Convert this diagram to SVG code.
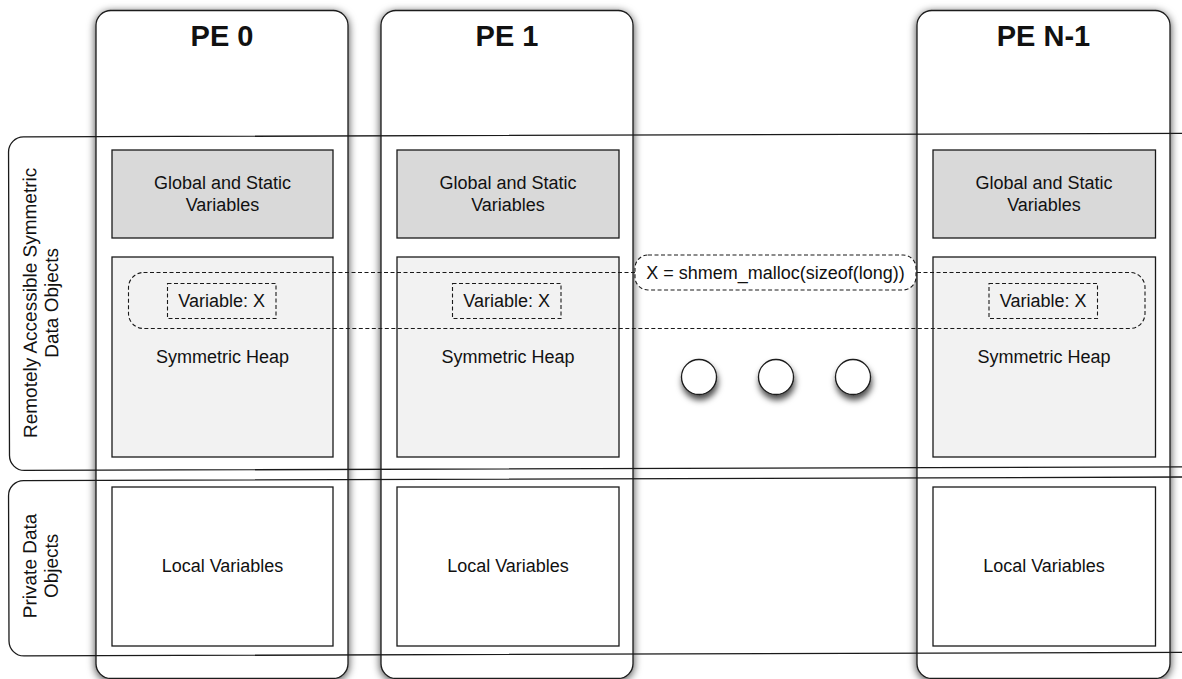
<svg xmlns="http://www.w3.org/2000/svg" width="1182" height="679" viewBox="0 0 1182 679">
<style>
.col{fill:#fff;stroke:#1a1a1a;stroke-width:1.3}
.row{fill:none;stroke:#1a1a1a;stroke-width:1.3}
.glob{fill:#d9d9d9;stroke:#1a1a1a;stroke-width:1.3}
.heap{fill:#f2f2f2;stroke:#1a1a1a;stroke-width:1.3}
.loc{fill:#fff;stroke:#1a1a1a;stroke-width:1.3}
.dash{fill:none;stroke:#1a1a1a;stroke-width:1.1;stroke-dasharray:4 2.5}
.dashw{fill:#fff;stroke:#1a1a1a;stroke-width:1.1;stroke-dasharray:4 2.5}
.dot{fill:#fff;stroke:#1a1a1a;stroke-width:1.3}
text{font-family:"Liberation Sans",Arial,Helvetica,sans-serif;fill:#111;text-anchor:middle}
.t{font-size:18px}
.v{font-size:19px}
.h{font-size:29px;font-weight:bold}
</style>
<defs>
<filter id="sh" x="-10%" y="-5%" width="120%" height="110%">
<feDropShadow dx="0" dy="2" stdDeviation="4.5" flood-color="#000" flood-opacity="0.75"/>
</filter>
<filter id="shc" x="-60%" y="-60%" width="220%" height="240%">
<feDropShadow dx="1" dy="5" stdDeviation="3" flood-color="#000" flood-opacity="0.7"/>
</filter>
</defs>

<g id="pe0">
<rect class="col" x="96" y="10.5" width="252" height="668" rx="15" filter="url(#sh)"/>
<text class="h" x="222" y="46">PE 0</text>
</g>
<g id="pe1">
<rect class="col" x="381" y="10.5" width="252" height="668" rx="15" filter="url(#sh)"/>
<text class="h" x="507" y="46">PE 1</text>
</g>
<g id="peN1">
<rect class="col" x="917" y="10.5" width="253" height="668" rx="15" filter="url(#sh)"/>
<text class="h" x="1043.5" y="46">PE N-1</text>
</g>

<g id="row-remote" transform="rotate(-0.18 8 137)">
<rect class="row" x="8.5" y="137" width="1200" height="333.5" rx="15"/>
<text class="v" transform="translate(36 303) rotate(-90)" x="0" y="0">Remotely Accessible Symmetric</text>
<text class="v" transform="translate(57.5 303) rotate(-90)" x="0" y="0">Data Objects</text>
</g>
<g id="row-private" transform="rotate(-0.18 8 481)">
<rect class="row" x="8.5" y="480.7" width="1200" height="175.3" rx="15"/>
<text class="v" transform="translate(36 566) rotate(-90)" x="0" y="0">Private Data</text>
<text class="v" transform="translate(57.5 566) rotate(-90)" x="0" y="0">Objects</text>
</g>

<g id="pe0-global"><rect class="glob" x="112" y="150" width="221" height="88"/><text class="t" x="222.5" y="189">Global and Static</text><text class="t" x="222.5" y="211">Variables</text></g>
<g id="pe1-global"><rect class="glob" x="397" y="150" width="222" height="88"/><text class="t" x="508" y="189">Global and Static</text><text class="t" x="508" y="211">Variables</text></g>
<g id="peN1-global"><rect class="glob" x="933" y="150" width="222.5" height="88"/><text class="t" x="1044" y="189">Global and Static</text><text class="t" x="1044" y="211">Variables</text></g>

<g id="pe0-heap"><rect class="heap" x="112" y="257" width="221" height="200"/><text class="t" x="222.5" y="363">Symmetric Heap</text></g>
<g id="pe1-heap"><rect class="heap" x="397" y="257" width="222" height="200"/><text class="t" x="508" y="363">Symmetric Heap</text></g>
<g id="peN1-heap"><rect class="heap" x="933" y="257" width="222.5" height="200"/><text class="t" x="1044" y="363">Symmetric Heap</text></g>

<g id="pe0-local"><rect class="loc" x="112" y="487" width="221" height="159"/><text class="t" x="222.5" y="572">Local Variables</text></g>
<g id="pe1-local"><rect class="loc" x="397" y="487" width="222" height="159"/><text class="t" x="508" y="572">Local Variables</text></g>
<g id="peN1-local"><rect class="loc" x="933" y="487" width="222.5" height="159"/><text class="t" x="1044" y="572">Local Variables</text></g>

<g id="pe0-varx"><rect class="dash" x="167.5" y="283.5" width="108.5" height="35"/><text class="t" x="221.7" y="307">Variable: X</text></g>
<g id="pe1-varx"><rect class="dash" x="452.5" y="283.5" width="108.5" height="35"/><text class="t" x="506.7" y="307">Variable: X</text></g>
<g id="peN1-varx"><rect class="dash" x="989" y="283.5" width="108.5" height="35"/><text class="t" x="1043.2" y="307">Variable: X</text></g>

<g id="connectors">
<rect id="symmetric-band" class="dash" x="128.5" y="272.5" width="1016.5" height="56" rx="15"/>
</g>

<g id="malloc-label">
<rect class="dashw" x="635" y="255" width="281" height="35" rx="13"/>
<text class="t" x="775.5" y="279">X = shmem_malloc(sizeof(long))</text>
</g>

<g id="ellipsis">
<circle class="dot" cx="699" cy="377" r="17.5" filter="url(#shc)"/>
<circle class="dot" cx="776" cy="377" r="17.5" filter="url(#shc)"/>
<circle class="dot" cx="853" cy="377" r="17.5" filter="url(#shc)"/>
</g>
</svg>
